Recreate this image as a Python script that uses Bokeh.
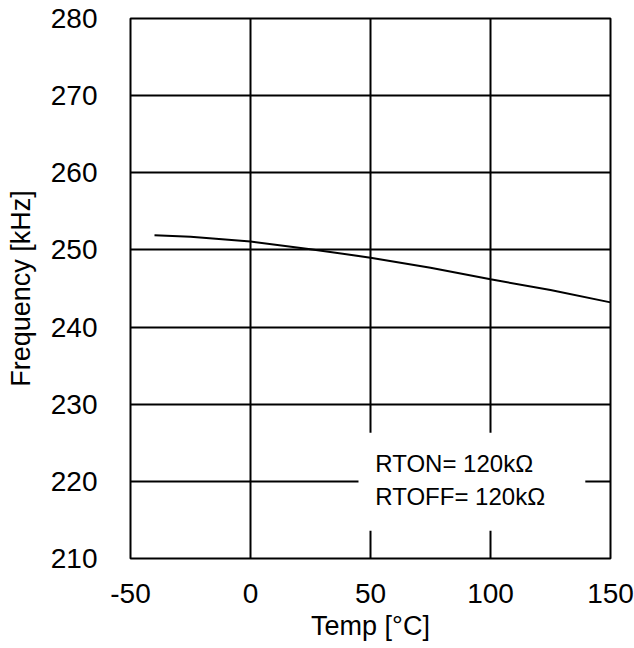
from bokeh.plotting import figure
from bokeh.models import FixedTicker, Range1d
from bokeh.core.properties import value
from bokeh.embed import file_html
from bokeh.resources import INLINE

# Oscillator frequency vs. ambient temperature
temp_c = [-40, -25, 0, 25, 50, 75, 100, 125, 150]
freq_khz = [251.9, 251.7, 251.1, 250.1, 249.0, 247.7, 246.2, 244.8, 243.2]

x_ticks = [-50, 0, 50, 100, 150]
y_ticks = [210, 220, 230, 240, 250, 260, 270, 280]

note_lines = ["RTON= 120kΩ", "RTOFF= 120kΩ"]
note_x = 52
note_y = [222.3, 218.1]
note_box = dict(left=45, right=139.5, bottom=213.6, top=226.3)

FONT = "Liberation Sans"

p = figure(
    width=634, height=648,
    x_range=Range1d(-50, 150), y_range=Range1d(210, 280),
    output_backend="svg", toolbar_location=None,
    min_border_left=130, min_border_right=24,
    min_border_top=18, min_border_bottom=90,
)
p.background_fill_color = "white"
p.border_fill_color = "white"
p.outline_line_color = "black"
p.outline_line_width = 2

p.xaxis.ticker = FixedTicker(ticks=x_ticks)
p.yaxis.ticker = FixedTicker(ticks=y_ticks)
# plain hyphen-minus on the negative tick
p.xaxis.major_label_overrides = {t: str(t) for t in x_ticks}

for ax in (p.xaxis[0], p.yaxis[0]):
    ax.axis_line_color = None
    ax.major_tick_line_color = None
    ax.minor_tick_line_color = None
    ax.major_label_text_font = FONT
    ax.major_label_text_font_size = "28px"
    ax.major_label_text_color = "black"
    ax.axis_label_text_font = FONT
    ax.axis_label_text_font_size = "27px"
    ax.axis_label_text_font_style = "normal"
    ax.axis_label_text_color = "black"

p.xaxis.axis_label = "Temp [°C]"
p.yaxis.axis_label = "Frequency [kHz]"
p.xaxis.major_label_standoff = 19
p.xaxis.axis_label_standoff = 5
p.yaxis.major_label_standoff = 27
p.yaxis.axis_label_standoff = 12

p.grid.grid_line_color = "black"
p.grid.grid_line_width = 2
p.grid.grid_line_alpha = 1.0

p.line(temp_c, freq_khz, line_color="black", line_width=2)

# blank panel behind the annotation
p.quad(left=[note_box["left"]], right=[note_box["right"]],
       bottom=[note_box["bottom"]], top=[note_box["top"]],
       fill_color="white", line_color=None)

p.text(x=[note_x, note_x], y=note_y, text=note_lines,
       text_font=value(FONT), text_font_size="24px",
       text_color="black", text_baseline="middle", text_align="left")

open("out.html", "w").write(file_html(p, INLINE))
